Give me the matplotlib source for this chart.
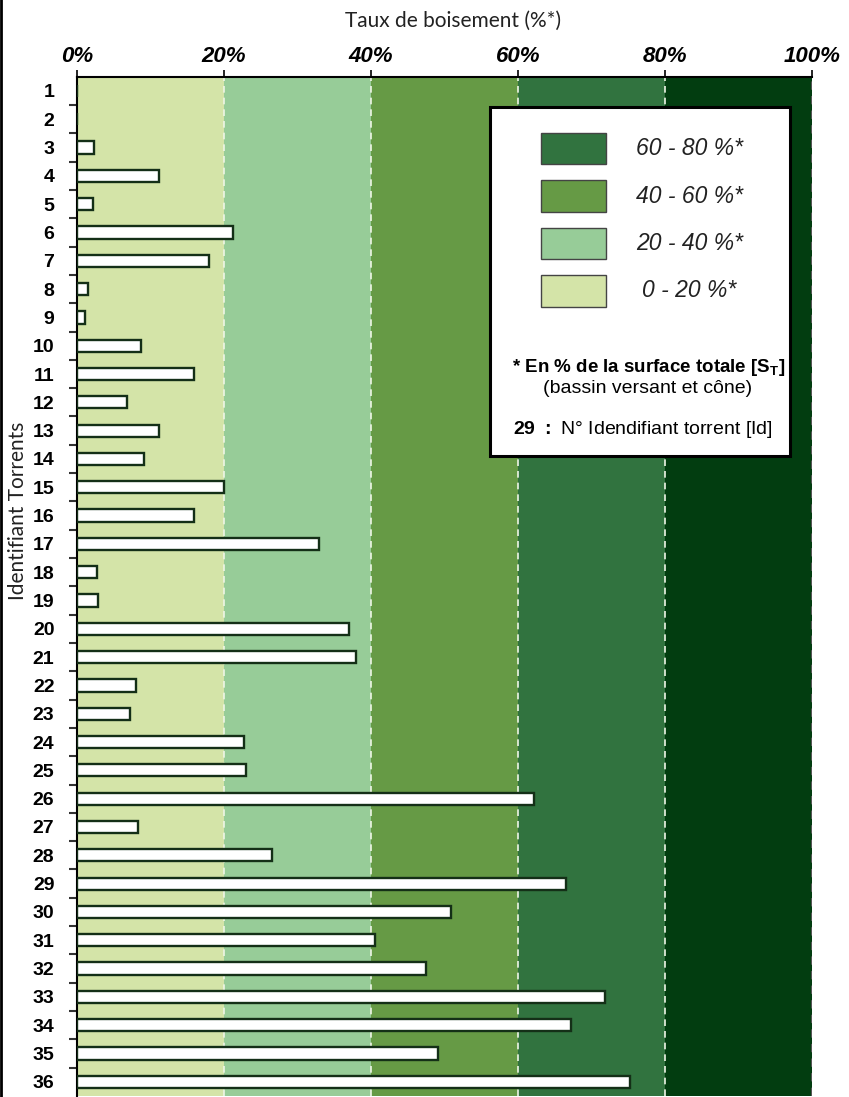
import matplotlib.pyplot as plt
from matplotlib.patches import Rectangle
from matplotlib.lines import Line2D

# === Data ===
torrent_ids = list(range(1, 37))
taux_boisement = [0, 0, 2.4, 11.2, 2.2, 21.2, 18.0, 1.5, 1.2, 8.7,
                  16.0, 6.9, 11.2, 9.1, 20.0, 16.0, 32.9, 2.7, 2.9, 37.0,
                  38.0, 8.1, 7.3, 22.7, 23.0, 62.2, 8.4, 26.5, 66.5, 50.9,
                  40.6, 47.5, 71.8, 67.2, 49.1, 75.3]
band_edges = [0, 20, 40, 60, 80, 100]
band_colors = ["#d4e4a8", "#97cc98", "#669a45", "#31733f", "#023d10"]
legend_labels = ["60 - 80 %*", "40 - 60 %*", "20 - 40 %*", "0 - 20 %*"]
legend_colors = [band_colors[3], band_colors[2], band_colors[1], band_colors[0]]

plt.rcParams['font.family'] = ['Liberation Sans', 'DejaVu Sans']
plt.rcParams['mathtext.fontset'] = 'custom'
plt.rcParams['mathtext.rm'] = 'Liberation Sans'
plt.rcParams['mathtext.bf'] = 'Liberation Sans:bold'

# === Figure ===
fig = plt.figure(figsize=(8.49, 10.97), dpi=100)
ax = fig.add_axes([0.0903, 0.001, 0.8661, 0.929])

# background bands
for i in range(len(band_colors)):
    ax.axvspan(band_edges[i], band_edges[i + 1], color=band_colors[i], zorder=0, lw=0)
for x in band_edges[1:-1]:
    ax.axvline(x, color="#eef5e6", ls=(0, (4, 3)), lw=1.2, zorder=1)
ax.axvline(100, color="#555555", ls=(0, (4, 3)), lw=1.5, zorder=1)

# bars
ax.barh(torrent_ids, taux_boisement, height=0.43, color="white",
        edgecolor="#142f17", linewidth=1.7, zorder=3)

# y axis
ax.set_ylim(36.5, 0.5)
ax.set_yticks(torrent_ids)
ax.set_yticklabels([str(t) for t in torrent_ids], fontsize=14, fontweight="bold")
ax.set_yticks([t + 0.5 for t in torrent_ids[:-1]], minor=True)
ax.tick_params(axis="y", which="major", length=0, pad=16)
ax.tick_params(axis="y", which="minor", length=6, width=1.5, color="#333333")
ax.set_ylabel("Identifiant Torrents", fontsize=15, family=["Lato", "DejaVu Sans"], color="#222222")
ax.yaxis.set_label_coords(-0.066, 0.574)

# x axis on top
ax.set_xlim(0, 100)
ax.xaxis.tick_top()
ax.set_xticks(band_edges)
ax.set_xticklabels([f"{v}%" for v in band_edges], fontsize=16, fontweight="bold", style="italic")
ax.tick_params(axis="x", length=5, width=1.2, pad=2)

for s in ["right", "bottom"]:
    ax.spines[s].set_visible(False)
ax.spines["top"].set_linewidth(1.5)
ax.spines["left"].set_linewidth(1.5)

fig.text(453 / 849, 1 - 21 / 1097, "Taux de boisement (%*)", ha="center", va="center",
         fontsize=15, family=["Lato", "DejaVu Sans"], color="#222222")

# === Legend box ===
ax.add_patch(Rectangle((0.562, 0.628), 0.408, 0.342, transform=ax.transAxes,
                       facecolor="white", edgecolor="black", lw=2.2, zorder=5))
for i, (lab, col) in enumerate(zip(legend_labels, legend_colors)):
    yb = 0.914 - i * 0.0465
    ax.add_patch(Rectangle((0.631, yb), 0.0884, 0.031, transform=ax.transAxes,
                           facecolor=col, edgecolor="#444444", lw=1, zorder=6))
    ax.text(0.833, yb + 0.0155, lab, transform=ax.transAxes, ha="center", va="center",
            fontsize=16.5, style="italic", color="#222222", zorder=7)

ax.text(0.778, 0.715, "* En % de la surface totale [S$_\\mathbf{T}$]", transform=ax.transAxes,
        ha="center", va="center", fontsize=13.5, fontweight="bold", zorder=7)
ax.text(0.777, 0.694, "(bassin versant et cône)", transform=ax.transAxes,
        ha="center", va="center", fontsize=14, zorder=7)
ax.text(0.770, 0.654, "$\\mathbf{29\\ :}$ N° Idendifiant torrent [Id]", transform=ax.transAxes,
        ha="center", va="center", fontsize=14, zorder=7)

# left frame line
fig.add_artist(Line2D([0.001, 0.001], [0, 1], transform=fig.transFigure, color="black", lw=2))

plt.savefig("out.png", dpi=100)
